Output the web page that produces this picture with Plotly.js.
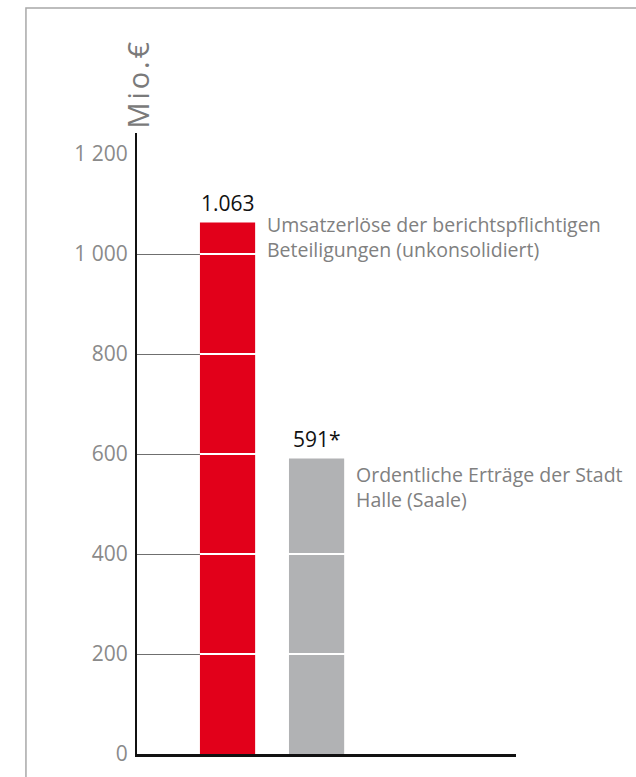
<!DOCTYPE html>
<html>
<head>
<meta charset="utf-8">
<script src="https://cdn.plot.ly/plotly-3.0.1.min.js"></script>
<style>
  html, body { margin: 0; padding: 0; background: #fff; }
  #plot { width: 636px; height: 777px; }
</style>
</head>
<body>
<div id="plot"></div>
<script>
// Data
var categories = ["Beteiligungen", "Stadt Halle"];
var values = [1063, 591];
var valueLabels = ["1.063", "591*"];
var descriptions = [
  "Umsatzerlöse der berichtspflichtigen<br>Beteiligungen (unkonsolidiert)",
  "Ordentliche Erträge der Stadt<br>Halle (Saale)"
];
var barColors = ["#e2001a", "#b1b2b4"];
var tickValues = [0, 200, 400, 600, 800, 1000, 1200];
var tickLabels = ["0", "200", "400", "600", "800", "1 000", "1 200"];
var unitLabel = "M\u200Ai\u200Ao\u200A.\u200A€";

var barWidth = 0.62;
var xStart = -1.017;
var font = "Open Sans, Noto Sans, sans-serif";

var trace = {
  x: categories,
  y: values,
  type: "bar",
  width: barWidth,
  marker: { color: barColors },
  hoverinfo: "skip"
};

// value labels above bars + description texts right of bars
var annotations = [];
categories.forEach(function(cat, i) {
  annotations.push({
    x: i, y: values[i], xref: "x", yref: "y",
    text: valueLabels[i], showarrow: false,
    yanchor: "bottom", yshift: 4,
    font: { family: font, size: 21, color: "#111" }
  });
  annotations.push({
    x: i + barWidth / 2, y: values[i], xref: "x", yref: "y",
    text: descriptions[i], showarrow: false,
    xanchor: "left", yanchor: "top", align: "left",
    xshift: 10, yshift: i === 0 ? 14 : 0,
    font: { family: font, size: 19.5, color: "#808080" }
  });
});

// unit label above the y axis
annotations.push({
  x: 0, y: 1.0, xref: "paper", yref: "paper",
  text: unitLabel, showarrow: false, textangle: -90,
  xanchor: "center", yanchor: "bottom", yshift: 2, xshift: 0,
  font: { family: font, size: 29, color: "#7a7a7a" }
});

// white grid lines over the bars, starting at the first bar's left edge
// (top tick has no visible grid line at all)
var shapes = tickValues.slice(1).map(function(v, k, arr) {
  return {
    type: "line", xref: "x", yref: "y", layer: "above",
    x0: k === arr.length - 1 ? xStart : -barWidth / 2, x1: 3.3, y0: v, y1: v,
    line: { color: "#ffffff", width: 2 }
  };
});

// frame round the figure
shapes.push({
  type: "rect", xref: "paper", yref: "paper", layer: "below",
  x0: -0.293, x1: 2, y0: -1, y1: 1.2013,
  line: { color: "#a8a8a8", width: 1.5 }
});

var layout = {
  width: 636,
  height: 777,
  margin: { l: 137, r: 120, t: 133, b: 23 },
  paper_bgcolor: "#fff",
  plot_bgcolor: "#fff",
  showlegend: false,
  font: { family: font },
  xaxis: {
    type: "category",
    range: [xStart, 3.24],
    showticklabels: false,
    ticks: "",
    showgrid: false,
    zeroline: false,
    showline: true,
    linecolor: "#111",
    linewidth: 3,
    fixedrange: true
  },
  yaxis: {
    range: [0, 1242],
    tickvals: tickValues,
    ticktext: tickLabels,
    ticks: "",
    ticklabelstandoff: 3,
    tickfont: { family: font, size: 21, color: "#8a8a8a" },
    showgrid: true,
    gridcolor: "#6f6f6f",
    gridwidth: 1,
    zeroline: false,
    showline: true,
    linecolor: "#111",
    linewidth: 2,
    fixedrange: true
  },
  annotations: annotations,
  shapes: shapes
};

Plotly.newPlot("plot", [trace], layout, { displayModeBar: false, staticPlot: true });
</script>
</body>
</html>
